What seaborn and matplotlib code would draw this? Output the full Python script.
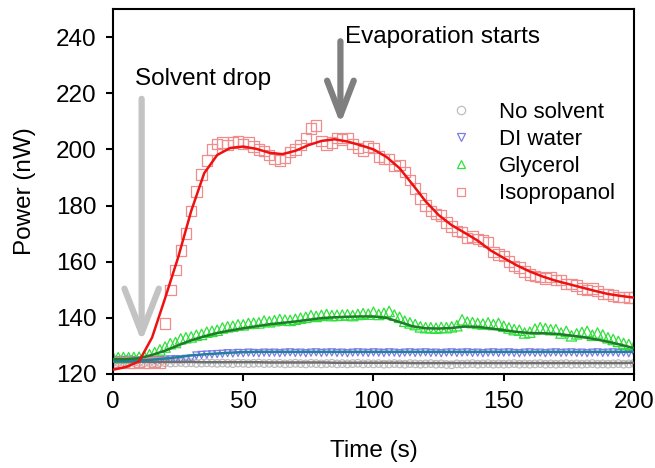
import numpy as np
import pandas as pd
import matplotlib
matplotlib.use("Agg")
import matplotlib.pyplot as plt
from matplotlib.lines import Line2D
import seaborn as sns

# ---------------- data ----------------
time_pts = np.arange(0, 201, 2)      # measurement times (s)
time_fit = np.arange(0, 201, 5)      # fitted-curve times (s)

no_solvent = [124.2,124.1,124.2,124.0,124.1,124.2,124.0,124.1,124.0,124.1,
              124.0,123.9,124.0,124.1,123.9,124.0,123.8,123.9,124.0,123.9,
              123.8,123.9,123.8,123.7,123.9,123.8,123.7,123.8,123.9,123.7,
              123.8,123.7,123.8,123.6,123.7,123.8,123.7,123.6,123.8,123.7,
              123.6,123.7,123.8,123.6,123.7,123.6,123.7,123.8,123.6,123.7,
              123.6,123.7,123.5,123.6,123.7,123.6,123.5,123.7,123.6,123.5,
              123.6,123.7,123.5,123.6,123.4,123.3,123.6,123.5,123.6,123.7,
              123.5,123.6,123.7,123.5,123.6,123.5,123.6,123.7,123.5,123.6,
              123.5,123.6,123.7,123.5,123.6,123.5,123.6,123.7,123.5,123.6,
              123.5,123.6,123.7,123.5,123.6,123.5,123.6,123.7,123.5,123.6,
              123.8]
di_water = [125.0,124.9,125.0,125.1,125.0,124.9,125.0,125.0,124.9,125.0,
            125.1,125.2,125.3,125.2,125.4,125.5,126.6,126.8,126.9,127.0,
            127.1,127.2,127.4,127.3,127.5,127.4,127.6,127.5,127.4,127.6,
            127.5,127.6,127.4,127.6,127.7,127.5,127.6,127.4,127.6,127.7,
            127.5,127.6,127.7,127.5,127.6,127.4,127.6,127.7,127.6,127.5,
            127.7,127.6,127.5,127.7,127.6,127.4,127.6,127.7,127.5,127.6,
            127.7,127.5,127.6,127.4,127.6,127.7,127.5,127.6,127.7,127.5,
            127.6,127.4,127.6,127.7,127.5,127.6,127.7,127.5,127.4,127.6,
            127.7,127.5,127.6,127.4,127.6,127.7,127.5,127.6,127.7,127.5,
            127.6,127.4,127.6,127.7,127.5,127.6,127.7,127.5,127.6,127.4,
            127.6]
glycerol = [125.9,125.8,125.9,125.8,125.9,126.0,126.3,126.9,127.6,128.6,
            129.6,130.8,131.2,132.5,132.9,133.2,133.8,134.1,134.9,135.2,
            135.6,136.4,136.8,137.0,137.5,137.5,138.0,138.1,138.2,138.9,
            138.6,139.0,139.4,139.2,139.1,139.5,139.9,140.2,140.8,140.5,
            140.9,141.2,140.8,140.9,141.0,141.1,140.8,141.2,141.5,141.3,
            142.0,141.2,141.6,142.3,141.0,140.2,138.8,138.2,137.6,136.8,
            136.5,136.5,136.3,136.6,136.5,136.8,137.2,139.3,138.5,138.3,
            138.0,137.8,138.2,137.6,138.0,137.0,136.4,135.8,135.6,134.6,
            134.9,136.0,136.5,136.2,135.8,135.8,134.6,135.2,133.6,134.3,
            134.8,135.2,133.8,134.6,133.9,132.9,132.3,131.6,130.9,130.5,
            129.8]
isopropanol = [124.3,124.0,124.2,124.1,124.0,124.2,124.1,124.0,124.2,124.1,
               138.0,150.0,157.0,164.0,170.0,178.0,185.0,191.0,196.0,200.0,
               202.0,202.5,201.5,202.5,203.0,202.0,202.5,201.0,200.0,199.5,
               198.0,196.5,196.0,197.0,199.0,200.0,201.5,204.0,207.5,208.5,
               203.0,201.5,202.5,204.0,203.5,204.0,202.0,200.5,199.5,201.0,
               200.5,197.5,196.5,196.5,194.0,194.5,192.0,189.0,186.0,182.5,
               180.0,178.0,177.0,176.5,174.0,172.5,171.0,170.5,168.5,169.0,
               168.0,167.5,167.0,163.5,162.5,162.0,160.0,158.5,158.0,156.5,
               155.5,155.0,154.5,154.0,154.5,153.5,153.5,152.0,152.0,151.5,
               150.5,150.0,150.5,149.5,148.5,148.5,148.0,147.5,147.5,147.3,
               147.2]

fit_no_solvent = [124.4,124.4,124.4,124.3,124.3,124.3,124.3,124.2,124.2,124.2,124.2,
                  124.2,124.1,124.1,124.1,124.1,124.1,124.0,124.0,124.0,124.0,
                  124.0,124.0,123.9,123.9,123.9,123.9,123.9,123.9,123.9,123.9,
                  123.9,123.9,123.9,123.9,123.9,123.9,123.9,123.9,123.9,124.0]
fit_di_water = [124.6,124.6,124.8,125.1,125.5,126.0,126.6,127.0,127.3,127.6,127.8,
                127.9,127.9,127.9,127.9,127.9,127.9,127.9,127.9,127.9,127.9,
                127.9,127.9,127.9,127.9,127.9,127.9,127.9,127.9,127.9,127.9,
                127.9,127.9,127.9,127.9,127.9,127.9,127.9,127.9,127.9,127.9]
fit_glycerol = [125.3,125.3,125.6,126.8,128.3,130.2,132.0,133.4,134.6,135.5,136.3,
                137.0,137.7,138.2,138.7,139.3,139.9,140.2,140.4,140.5,140.5,
                140.0,138.5,137.0,136.3,136.2,136.4,136.9,136.8,136.2,135.6,
                135.0,134.6,134.5,134.3,133.8,133.2,132.4,131.5,130.4,129.2]
fit_isopropanol = [121.5,122.5,124.5,133.0,147.0,161.5,178.0,191.5,198.0,200.5,201.0,
                   200.2,198.8,198.3,199.5,201.5,203.0,203.6,202.8,201.5,200.0,
                   197.3,193.3,187.5,181.5,176.6,173.0,170.3,167.5,164.0,161.3,
                   158.7,156.5,154.7,153.2,152.0,150.8,149.6,148.5,147.8,147.2]

series_labels = ["No solvent", "DI water", "Glycerol", "Isopropanol"]
x_ticks = [0, 50, 100, 150, 200]
y_ticks = [120, 140, 160, 180, 200, 220, 240]

# ---------------- style ----------------
sns.set_style("ticks")
plt.rcParams["font.family"] = ["Liberation Sans", "DejaVu Sans"]
plt.rcParams["text.color"] = "black"
plt.rcParams["axes.labelcolor"] = "black"
plt.rcParams["xtick.color"] = "black"
plt.rcParams["ytick.color"] = "black"

fig = plt.figure(figsize=(6.55, 4.68), dpi=100)
ax = fig.add_axes([113/655, 1-374/468, (634-113)/655, (374-9)/468])

pts = pd.DataFrame({"t": time_pts, "No solvent": no_solvent, "DI water": di_water,
                    "Glycerol": glycerol, "Isopropanol": isopropanol})
fit = pd.DataFrame({"t": time_fit, "No solvent": fit_no_solvent, "DI water": fit_di_water,
                    "Glycerol": fit_glycerol, "Isopropanol": fit_isopropanol})

marker_cfg = {
    "No solvent": dict(marker="o", s=30, edgecolor="#bdbdbd"),
    "DI water": dict(marker="v", s=26, edgecolor="#7b7be8"),
    "Glycerol": dict(marker="^", s=56, edgecolor="#2fe03a"),
    "Isopropanol": dict(marker="s", s=56, edgecolor="#f08c8c"),
}
line_color = {"No solvent": "#6e6e6e", "DI water": "#23809a",
              "Glycerol": "#1f7a2a", "Isopropanol": "#ee1111"}

for name in series_labels:
    cfg = marker_cfg[name]
    sns.scatterplot(data=pts, x="t", y=name, ax=ax, marker=cfg["marker"], s=cfg["s"],
                    facecolor="none", edgecolor=cfg["edgecolor"], linewidth=0.9,
                    legend=False, zorder=2)
for name in series_labels:
    sns.lineplot(data=fit, x="t", y=name, ax=ax, color=line_color[name],
                 linewidth=1.8, legend=False, zorder=3)

ax.set_xlim(0, 200)
ax.set_ylim(120, 250)
ax.set_xticks(x_ticks)
ax.set_yticks(y_ticks)
ax.tick_params(axis="both", direction="out", length=5, width=1.5, labelsize=17.5,
               colors="black", pad=7)
for sp in ax.spines.values():
    sp.set_linewidth(1.5)
    sp.set_color("black")
ax.set_xlabel("Time (s)", fontsize=17.5, labelpad=20, color="black")
ax.set_ylabel("Power (nW)", fontsize=17.5, labelpad=14, color="black")

# arrows and annotations
ax.annotate("", xy=(11.0, 131.5), xytext=(11.0, 218),
            arrowprops=dict(arrowstyle="->,head_length=1.6,head_width=0.62",
                            lw=4.5, color="#c3c3c3", mutation_scale=20,
                            shrinkA=0, shrinkB=0), zorder=4)
ax.text(8.3, 225, "Solvent drop", fontsize=17.5, ha="left", va="center", color="black")

ax.annotate("", xy=(87.3, 209), xytext=(87.3, 238.5),
            arrowprops=dict(arrowstyle="->,head_length=1.25,head_width=0.48",
                            lw=4.5, color="#7f7f7f", mutation_scale=20,
                            shrinkA=0, shrinkB=0), zorder=4)
ax.text(89.2, 240.2, "Evaporation starts", fontsize=17.5, ha="left", va="center",
        color="black")

# legend
handles = []
for name in series_labels:
    cfg = marker_cfg[name]
    handles.append(Line2D([], [], linestyle="none", marker=cfg["marker"],
                          markersize=6, markerfacecolor="none",
                          markeredgecolor=cfg["edgecolor"], markeredgewidth=0.9))
leg = ax.legend(handles, series_labels, loc="upper left", bbox_to_anchor=(0.647, 0.746),
                frameon=False, fontsize=16, handlelength=1.0, handletextpad=1.2,
                labelspacing=0.28, borderpad=0, borderaxespad=0)
for txt in leg.get_texts():
    txt.set_color("black")

fig.savefig("out.png", dpi=100)
